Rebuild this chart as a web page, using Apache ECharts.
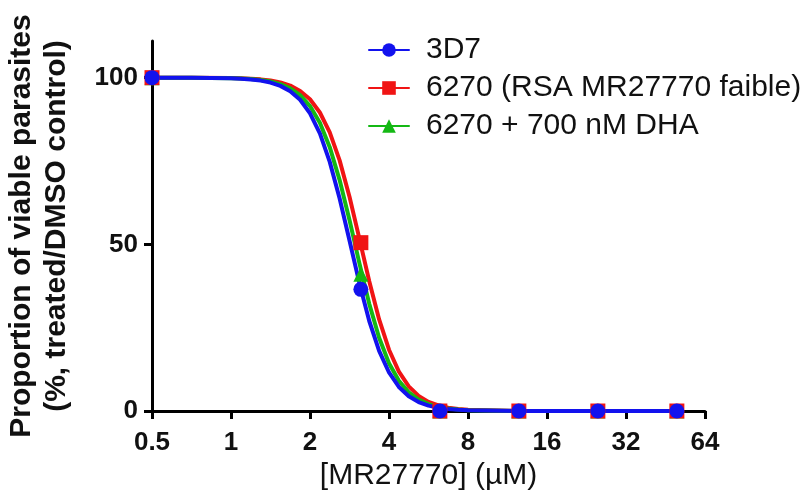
<!DOCTYPE html>
<html>
<head>
<meta charset="utf-8">
<script src="https://cdn.jsdelivr.net/npm/echarts@6/dist/echarts.min.js"></script>
<style>
html,body{margin:0;padding:0;background:#fff;}
#chart{width:801px;height:497px;}
</style>
</head>
<body>
<div id="chart"></div>
<script>
// ---- data ----
var seriesNames = ['3D7', '6270 (RSA MR27770 faible)', '6270 + 700 nM DHA'];
var xTicks = [0.5, 1, 2, 4, 8, 16, 32, 64];
var yTicks = [0, 50, 100];

// measured points (µM, % viable)
var concPoints = [0.5, 3.125, 6.25, 12.5, 25, 50];
var points3D7 = [100, 36.5, 0, 0, 0, 0];
var points6270 = [100, 50.5, 0, 0, 0, 0];
var points6270DHA = [100, 41, 0, 0, 0, 0];

// fitted curves (x in µM)
var curveX = [0.5, 0.707, 1, 1.0905, 1.1892, 1.2968, 1.4142, 1.5422, 1.6818, 1.834, 2, 2.181, 2.3784, 2.5937, 2.8284,
  3.0844, 3.3636, 3.668, 4, 4.362, 4.757, 5.187, 5.657, 6.169, 6.727, 7.336, 8, 12.5, 25, 50];
var curve3D7 = [100, 99.98, 99.81, 99.69, 99.48, 99.12, 98.53, 97.54, 95.94, 93.36, 89.32, 83.26, 74.74, 63.76, 51.13,
  38.35, 27.0, 18.03, 11.56, 7.21, 4.42, 2.68, 1.61, 0.96, 0.58, 0.34, 0.2, 0, 0, 0];
var curve6270 = [100, 99.99, 99.89, 99.82, 99.69, 99.49, 99.14, 98.56, 97.61, 96.03, 93.51, 89.55, 83.59, 75.18, 64.3,
  51.72, 38.91, 27.46, 18.38, 11.81, 7.37, 4.52, 2.74, 1.65, 0.99, 0.59, 0.35, 0, 0, 0];
var curve6270DHA = [100, 99.99, 99.85, 99.76, 99.59, 99.31, 98.85, 98.08, 96.81, 94.76, 91.47, 86.45, 79.14, 69.28, 57.29,
  44.36, 32.15, 21.99, 14.35, 9.06, 5.59, 3.4, 2.05, 1.23, 0.74, 0.44, 0.26, 0, 0, 0];

// ---- build ----
var colors = ['#1212ee', '#f01414', '#14b814'];
var symbols = ['circle', 'rect', 'triangle'];
var FONT = '"Liberation Sans", Arial, Helvetica, sans-serif';

function pairs(xs, ys) { return xs.map(function (x, i) { return [x, ys[i]]; }); }

var curves = [curve3D7, curve6270, curve6270DHA];
var pts = [points3D7, points6270, points6270DHA];

var series = [];
[1, 2, 0].forEach(function (i) {
  series.push({
    name: seriesNames[i],
    type: 'line',
    data: pairs(curveX, curves[i]),
    smooth: false,
    showSymbol: false,
    symbol: symbols[i],
    symbolSize: 15,
    lineStyle: { color: colors[i], width: 4, join: 'round', cap: 'round' },
    itemStyle: { color: colors[i] },
    z: 2
  });
});
[2, 1, 0].forEach(function (i) {
  series.push({
    name: seriesNames[i] + ' points',
    type: 'scatter',
    data: pairs(concPoints, pts[i]),
    symbol: symbols[i],
    symbolSize: 15,
    itemStyle: { color: colors[i], opacity: 1 },
    z: 3
  });
});

var chart = echarts.init(document.getElementById('chart'), null, { renderer: 'canvas' });
chart.setOption({
  animation: false,
  backgroundColor: '#ffffff',
  grid: { left: 152, right: 96, top: 41, bottom: 86, containLabel: false, outerBoundsMode: 'none' },
  legend: {
    data: seriesNames,
    orient: 'vertical',
    left: 363,
    top: 30,
    itemWidth: 40,
    itemHeight: 17,
    itemGap: 8,
    textStyle: { fontFamily: FONT, fontSize: 30, color: '#111', padding: [0, 0, 0, 12] },
    selectedMode: false
  },
  xAxis: {
    type: 'log',
    logBase: 2,
    min: 0.5,
    max: 64,
    name: '[MR27770] (µM)',
    nameLocation: 'middle',
    nameGap: 50,
    nameTextStyle: { fontFamily: FONT, fontSize: 30, color: '#111' },
    axisLine: { show: true, lineStyle: { color: '#000', width: 3 } },
    axisTick: { show: true, length: 8, inside: false, lineStyle: { color: '#000', width: 3 }, customValues: xTicks },
    axisLabel: {
      customValues: xTicks,
      fontFamily: FONT, fontSize: 26, fontWeight: 'bold', color: '#111', margin: 19,
      formatter: function (v) { return String(v); }
    },
    splitLine: { show: false },
    minorTick: { show: false }
  },
  yAxis: {
    type: 'value',
    min: 0,
    max: 111,
    name: 'Proportion of viable parasites\n(%, treated/DMSO control)',
    nameLocation: 'middle',
    nameGap: 78,
    nameRotate: 90,
    nameTextStyle: { fontFamily: FONT, fontSize: 30, fontWeight: 'bold', color: '#111', lineHeight: 35 },
    axisLine: { show: true, lineStyle: { color: '#000', width: 3 } },
    axisTick: { show: true, length: 8, inside: false, lineStyle: { color: '#000', width: 3 }, customValues: yTicks },
    axisLabel: {
      customValues: yTicks,
      fontFamily: FONT, fontSize: 26, fontWeight: 'bold', color: '#111', margin: 14
    },
    splitLine: { show: false }
  },
  series: series
});
</script>
</body>
</html>
